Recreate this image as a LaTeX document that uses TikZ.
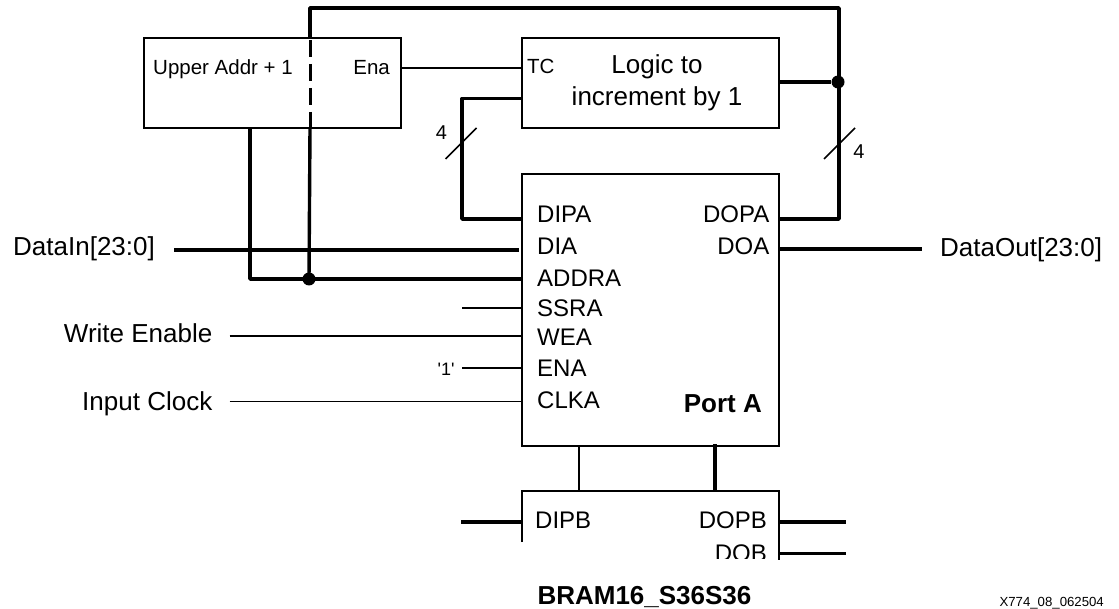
\documentclass[tikz,border=0pt]{standalone}
\usepackage{fontspec}
\setmainfont{Liberation Sans}
\tikzset{
    box/.style={draw, line width=2pt, fill=white, outer sep=0pt},
    bus/.style={line width=3.4pt, line join=round},
    wire/.style={line width=2pt},
    thinwire/.style={line width=1.2pt},
    slash/.style={line width=1.5pt},
    dot/.style={circle, fill=black, inner sep=0pt, minimum size=13pt},
    boxlabel/.style={font=\fontsize{20.5}{20.5}\selectfont, inner sep=0pt},
    portlabel/.style={font=\fontsize{24}{24}\selectfont, inner sep=0pt},
    biglabel/.style={font=\fontsize{26}{32}\selectfont, inner sep=0pt},
}
\begin{document}
\begin{tikzpicture}[x=1pt, y=-1pt]
    \useasboundingbox (0,0) rectangle (1119,609);

    % Top boxes
    \node[box, anchor=north west, minimum width=257pt, minimum height=90pt] (upper) at (144,38) {};
    \node[box, anchor=north west, minimum width=257pt, minimum height=90pt] (logic) at (522,38) {};
    \node[boxlabel, anchor=base west] (upperlabel) at (153,75) {Upper Addr + 1};
    \node[boxlabel, anchor=base east] (enalabel) at (390,75) {Ena};
    \node[boxlabel, anchor=base west] (tclabel) at (527,73.5) {TC};
    \node[biglabel, align=center] (logiclabel) at (657,83) {Logic to\\increment by 1};

    % Port A
    \node[box, anchor=north west, minimum width=257pt, minimum height=272pt] (porta) at (522,174) {};
    \foreach \name/\y in {DIPA/222.7,DIA/255,ADDRA/286.7,SSRA/316.7,WEA/345.7,ENA/376.7,CLKA/409}
        \node[portlabel, anchor=base west] (\name) at (537,\y) {\name};
    \node[portlabel, anchor=base east] (DOPA) at (769.5,222.7) {DOPA};
    \node[portlabel, anchor=base east] (DOA) at (769.5,255) {DOA};
    \node[anchor=base east, inner sep=0pt, font=\fontsize{26}{26}\selectfont\bfseries] (portname) at (762,413) {Port A};

    % Outer labels
    \node[biglabel, anchor=base west] (datain) at (13,256) {DataIn[23:0]};
    \node[biglabel, anchor=base west] (dataout) at (940,257) {DataOut[23:0]};
    \node[biglabel, anchor=base east] (we) at (212.5,343) {Write Enable};
    \node[biglabel, anchor=base east] (clk) at (212.5,410) {Input Clock};
    \node[inner sep=0pt, font=\fontsize{18}{18}\selectfont] (one) at (446,369) {\textquotesingle1\textquotesingle};

    % Free ends
    \coordinate (datainend) at (174,250);
    \coordinate (dataoutend) at (922,249);
    \coordinate (ssraend) at (462,308);
    \coordinate (weaend) at (229.5,336);
    \coordinate (enaend) at (462,368);
    \coordinate (clkaend) at (229.5,401.5);

    % Feedback buses
    \coordinate (upperbus) at (310,128);
    \coordinate (topleft) at (310,8);
    \coordinate (topright) at (839,8);
    \coordinate (dopacorner) at (839,219);
    \coordinate (dipacorner) at (462,219);
    \coordinate (logiccorner) at (462,98.5);
    \coordinate (addrcorner) at (250,279);
    \node[dot] (addrdot) at (309,279) {};
    \node[dot] (logicdot) at (838,82) {};

    \draw[bus] (310,38) -- (topleft) -- (topright) -- (dopacorner) -- (779,219);
    \draw[line width=3pt, dash pattern=on 17pt off 7pt] (310,40) -- (upperbus);
    \draw[bus] (upperbus) -- (addrdot.center);
    \draw[bus] (250,128) -- (addrcorner) -- (addrcorner -| porta.west);
    \draw[bus] (logic.east |- logicdot) -- (logicdot);
    \draw[bus] (logic.west |- logiccorner) -- (logiccorner) -- (dipacorner) -- (dipacorner -| porta.west);
    \draw[bus] (datainend) -- (519,250);
    \draw[bus] (porta.east |- dataoutend) -- (dataoutend);
    \draw[wire] (upper.east |- 0,68) -- (logic.west |- 0,68);

    % Bus width marks
    \draw[slash] (445.5,159) -- (476.5,128);
    \node[inner sep=0pt, font=\fontsize{20}{20}\selectfont] (leftfour) at (441.5,133) {4};
    \draw[slash] (824,159) -- (855,128);
    \node[inner sep=0pt, font=\fontsize{20}{20}\selectfont] (rightfour) at (859,152) {4};

    % Control inputs
    \draw[thinwire] (ssraend) -- (ssraend -| porta.west);
    \draw[thinwire] (weaend) -- (weaend -| porta.west);
    \draw[thinwire] (enaend) -- (enaend -| porta.west);
    \draw[thinwire] (clkaend) -- (clkaend -| porta.west);

    % Port B
    \node[portlabel, anchor=base west] (DIPB) at (535,528) {DIPB};
    \node[portlabel, anchor=base east] (DOPB) at (767,528) {DOPB};
    \node[portlabel, anchor=base east] (DOB) at (767,561) {DOB};
    \fill[white] (500,558.5) rectangle (775,580);
    \draw[line width=2pt] (522,542) -- (522,491) -- (779,491) -- (779,560);
    \coordinate (portbtop) at (579,491);
    \coordinate (portbbus) at (715,491);
    \draw[thinwire] (579,446) -- (portbtop);
    \draw[bus] (715,444) -- (portbbus);
    \draw[bus] (461,522) -- (522,522);
    \draw[bus] (779,522) -- (846,522);
    \draw[bus] (779,553.5) -- (846,553.5);

    % Captions
    \node[anchor=base, inner sep=0pt, font=\fontsize{26}{26}\selectfont\bfseries] (bram) at (644.5,604) {BRAM16\_S36S36};
    \node[inner sep=0pt, anchor=base east, font=\fontsize{13.2}{13.2}\selectfont] (partno) at (1104,606) {X774\_08\_062504};
\end{tikzpicture}
\end{document}
